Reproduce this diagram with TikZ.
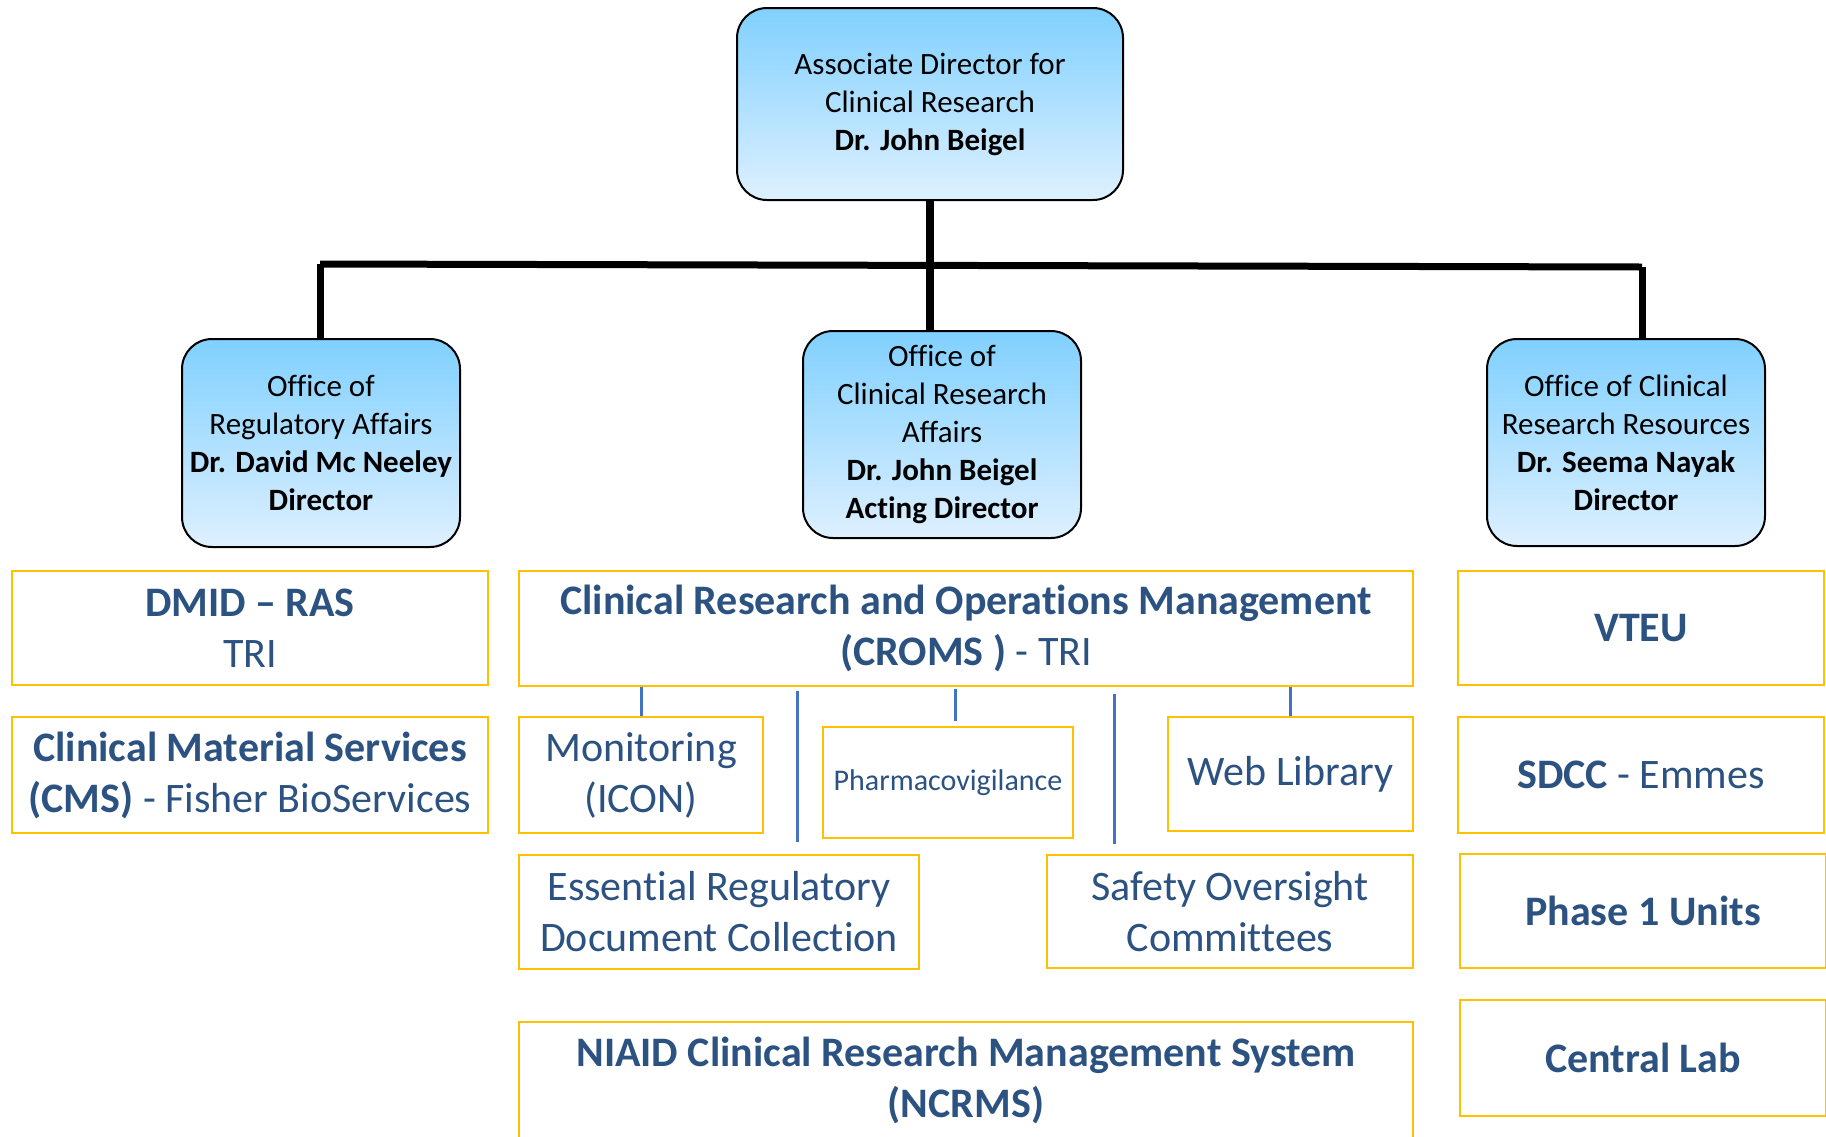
\documentclass[tikz,border=0pt]{standalone}
\usepackage{fontspec}
\setmainfont[Ligatures=NoCommon]{Carlito}
\definecolor{gold}{HTML}{FFC000}
\definecolor{tblue}{HTML}{2C5281}
\definecolor{lblue}{HTML}{4472C4}
\definecolor{gtop}{RGB}{128,208,255}
\definecolor{gbot}{RGB}{222,240,255}
\begin{document}
\begin{tikzpicture}[x=1pt,y=-1pt,
 office/.style={draw=black, line width=2pt, rounded corners=30pt, top color=gtop, bottom color=gbot, align=center, inner sep=0pt, font=\fontsize{31}{38}\selectfont},
 unit/.style={draw=gold, line width=2.5pt, fill=white, align=center, inner sep=0pt, text=tblue, font=\fontsize{42}{51}\selectfont},
 bar/.style={line width=7pt, black},
 tick/.style={line width=3pt, lblue}]
\useasboundingbox (0,0) rectangle (1826,1136);
\fill[white] (0,0) rectangle (1826,1136);

% top and office boxes
\node[office, minimum width=386pt, minimum height=192pt] (top) at (930,104) {Associate Director for\\Clinical Research\\\textbf{Dr. John Beigel}};
\node[office, minimum width=278pt, minimum height=208pt] (reg) at (321,443) {Office of\\Regulatory Affairs\\\textbf{Dr. David Mc Neeley}\\\textbf{Director}};
\node[office, minimum width=278pt, minimum height=207pt] (cra) at (942,434.5) {Office of\\Clinical Research\\Affairs\\\textbf{Dr. John Beigel}\\\textbf{Acting Director}};
\node[office, minimum width=278pt, minimum height=207pt] (res) at (1626,442.5) {Office of Clinical\\Research Resources\\\textbf{Dr. Seema Nayak}\\\textbf{Director}};

% connectors
\coordinate (jl) at (320,264);
\coordinate (jr) at (1642,267);
\draw[bar] (jl) -- (jr);
\draw[bar, line width=8pt] (top.south) -- (top.south |- cra.north);
\draw[bar] (jl) -- (jl |- reg.north);
\draw[bar] (jr) -- (jr |- res.north);

% left column
\node[unit, minimum width=476pt, minimum height=114pt] (dmid) at (250,628) {\textbf{DMID – RAS}\\TRI};
\node[unit, minimum width=476pt, minimum height=116pt] (cms) at (250,775) {\textbf{Clinical Material Services}\\\textbf{(CMS)} - Fisher BioServices};

% center column
\node[unit, minimum width=894pt, minimum height=115pt] (croms) at (966,628.5) {\textbf{Clinical Research and Operations Management}\\\textbf{(CROMS )} - TRI};
\node[unit, minimum width=244pt, minimum height=116pt] (mon) at (641,775) {Monitoring\\(ICON)};
\node[unit, minimum width=250pt, minimum height=111pt, font=\fontsize{30}{36}\selectfont] (pha) at (948,782.5) {Pharmacovigilance};
\node[unit, minimum width=245pt, minimum height=114pt] (web) at (1290.5,774) {Web Library};
\node[unit, minimum width=400pt, minimum height=114pt] (erdc) at (719,912) {Essential Regulatory\\Document Collection};
\node[unit, minimum width=366pt, minimum height=113pt] (soc) at (1230,911.5) {Safety Oversight\\Committees};
\node[unit, minimum width=894pt, minimum height=116pt] (ncrms) at (966,1080) {\textbf{NIAID Clinical Research Management System}\\\textbf{(NCRMS)}};

% right column
\node[unit, minimum width=366pt, minimum height=114pt] (vteu) at (1641,628) {\textbf{VTEU}};
\node[unit, minimum width=366pt, minimum height=116pt] (sdcc) at (1641,775) {\textbf{SDCC} - Emmes};
\node[unit, minimum width=366pt, minimum height=114pt] (ph1) at (1643,911) {\textbf{Phase 1 Units}};
\node[unit, minimum width=366pt, minimum height=116pt] (clab) at (1643,1058) {\textbf{Central Lab}};

% blue ticks
\draw[tick] (mon.north) -- (mon.north |- croms.south);
\draw[tick] (web.north) -- (web.north |- croms.south);
\coordinate (p1) at (955,689);
\coordinate (p2) at (955,721);
\draw[tick] (p1) -- (p2);
\coordinate (s1) at (797,691);
\coordinate (s2) at (797,842);
\draw[tick] (s1) -- (s2);
\coordinate (t1) at (1114,694);
\coordinate (t2) at (1114,844);
\draw[tick] (t1) -- (t2);
\end{tikzpicture}
\end{document}
